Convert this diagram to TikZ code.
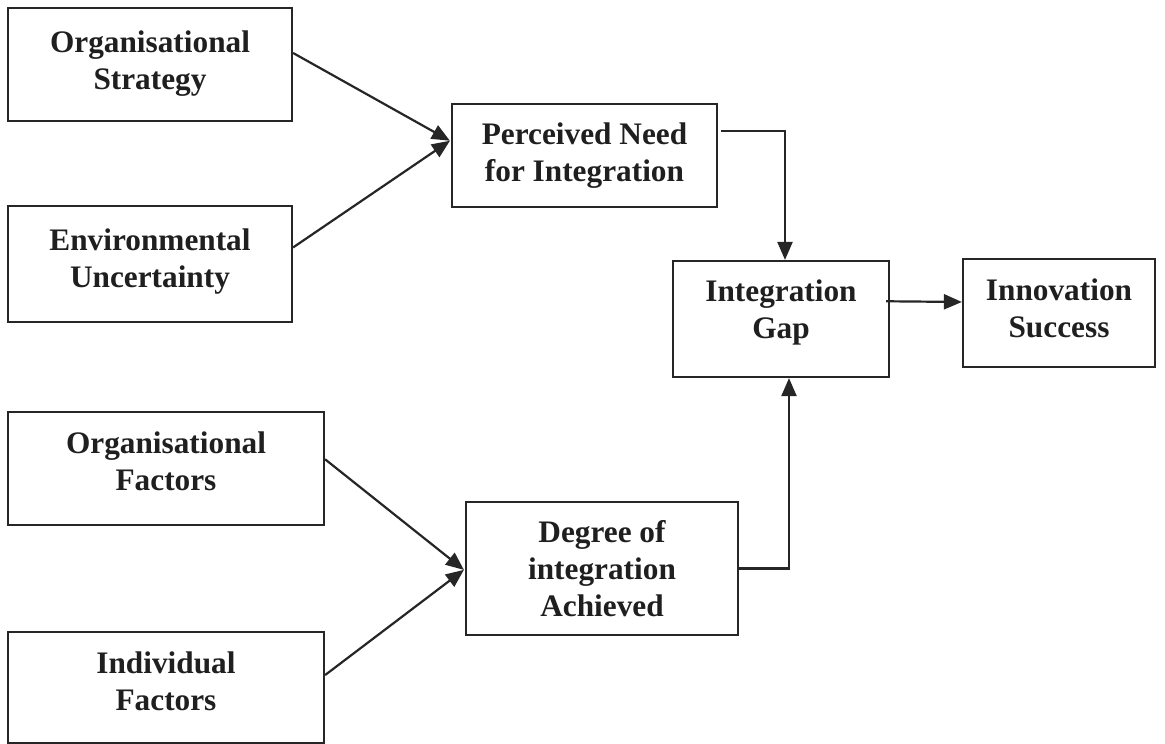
\documentclass[tikz,border=0pt]{standalone}
\usepackage{fontspec}
\setmainfont{Liberation Serif}
\usetikzlibrary{arrows.meta,calc}
\begin{document}
\begin{tikzpicture}[x=1pt,y=-1pt,
  box/.style={draw=black!85,line width=2.2pt,rectangle,inner sep=0pt},
  txt/.style={align=center,inner sep=0pt,text=black!88,font=\fontsize{31.3}{37}\selectfont\bfseries},
  arr/.style={draw=black!85,line width=2.2pt,-{Triangle[length=18pt,width=15pt]}},
  ln/.style={draw=black!85,line width=2.2pt}]
\useasboundingbox[fill=white] (0,0) rectangle (1165,744);
% boxes
\node[box,minimum width=284pt,minimum height=113pt] (b1) at (150,64.5) {};
\node[box,minimum width=284pt,minimum height=116pt] (b2) at (150,264) {};
\node[box,minimum width=265pt,minimum height=103pt] (b3) at (584.5,155.5) {};
\node[box,minimum width=216pt,minimum height=116pt] (b4) at (781,319) {};
\node[box,minimum width=192pt,minimum height=108pt] (b5) at (1059,313) {};
\node[box,minimum width=316pt,minimum height=113pt] (b6) at (166,468.5) {};
\node[box,minimum width=316pt,minimum height=111pt] (b7) at (166,687.5) {};
\node[box,minimum width=272pt,minimum height=133pt] (b8) at (602,568.5) {};
% texts
\node[txt] (t1) at (150,63.1) {\strut Organisational\\Strategy\strut};
\node[txt] (t2) at (150,261.1) {\strut Environmental\\Uncertainty\strut};
\node[txt] (t3) at (584.5,155.1) {\strut Perceived Need\\for Integration\strut};
\node[txt] (t4) at (781,312.1) {\strut Integration\\Gap\strut};
\node[txt] (t5) at (1059,311.1) {\strut Innovation\\Success\strut};
\node[txt] (t6) at (166,464.1) {\strut Organisational\\Factors\strut};
\node[txt] (t7) at (166,684.1) {\strut Individual\\Factors\strut};
\node[txt] (t8) at (602,571.6) {\strut Degree of\\integration\\Achieved\strut};
% connection points
\coordinate (in3) at ($(b3.north west)!0.36!(b3.south west)+(-1,0)$);
\coordinate (in8) at ($(b8.north west)!0.51!(b8.south west)+(-1,0)$);
% connectors
\draw[arr] ($(b1.north east)!0.40!(b1.south east)$) -- (in3);
\draw[arr] ($(b2.north east)!0.36!(b2.south east)$) -- (in3);
\draw[arr] ($(b6.north east)!0.42!(b6.south east)$) -- (in8);
\draw[arr] ($(b7.north east)!0.39!(b7.south east)$) -- (in8);
\draw[arr] ($(b3.north east)!0.27!(b3.south east)+(3,0)$) -| ([xshift=4pt]b4.north);
\draw[arr] ($(b4.north east)!0.35!(b4.south east)+(-4,0)$) -- ($(b5.north west)!0.40!(b5.south west)$);
\draw[arr] (b8.east) -| ([xshift=8pt]b4.south);
\end{tikzpicture}
\end{document}
